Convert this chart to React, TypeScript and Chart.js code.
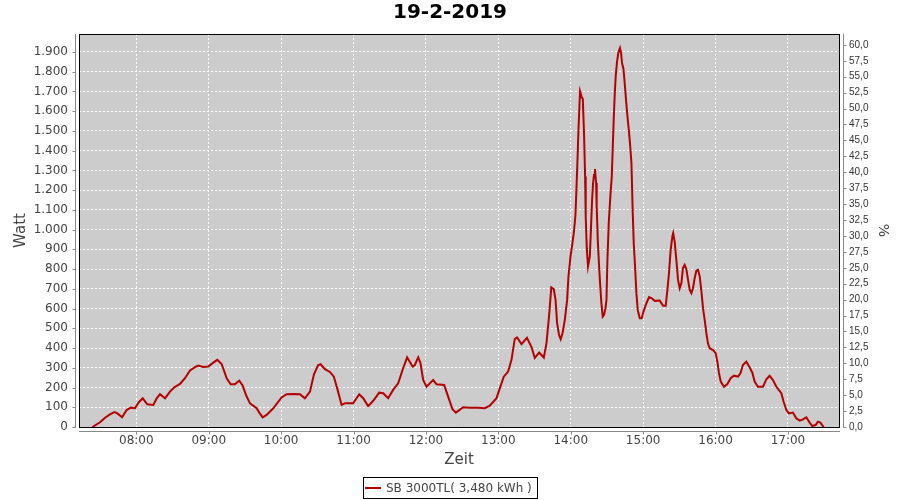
import { useEffect, useRef } from 'react';
import { Chart, registerables } from 'chart.js';

Chart.register(...registerables);

const chartTitle = '19-2-2019';
const seriesLabel = 'SB 3000TL( 3,480 kWh )';
const xAxisTitle = 'Zeit';
const yAxisTitle = 'Watt';
const y2AxisTitle = '%';

// time of day in minutes after midnight
const timeMinutes = [
  443.6, 449.9, 454.1, 458.2, 461.8, 464.3, 468.2, 472.0, 475.4, 478.9,
  481.7, 485.3, 489.1, 494.1, 496.9, 499.6, 503.8, 507.9, 511.5, 516.2,
  520.3, 524.5, 528.6, 531.3, 535.5, 539.6, 543.8, 547.1, 550.7, 554.9,
  558.2, 561.7, 565.3, 568.1, 570.9, 574.2, 579.7, 581.9, 584.7, 588.0,
  593.5, 596.3, 600.4, 604.6, 610.0, 615.6, 619.7, 623.9, 627.2, 630.7,
  632.7, 636.3, 640.4, 643.7, 646.8, 650.1, 652.8, 659.7, 664.7, 668.0,
  672.1, 676.3, 681.3, 684.6, 688.7, 692.8, 697.0, 700.6, 704.4, 708.9,
  710.8, 713.6, 715.5, 717.7, 720.5, 723.2, 726.0, 728.8, 735.1, 738.4,
  742.0, 744.8, 750.8, 756.4, 763.2, 768.8, 772.9, 778.5, 781.2, 784.5,
  788.1, 790.9, 793.6, 795.5, 799.2, 803.7, 807.5, 810.2, 813.8, 817.7,
  819.9, 822.0, 823.9, 826.0, 827.4, 828.7, 830.3, 831.7, 833.2, 835.1,
  837.0, 838.1, 839.8, 841.4, 842.8, 843.9, 844.7, 845.6, 846.4, 847.2,
  847.7, 848.9, 850.0, 851.0, 851.9, 852.4, 853.3, 854.3, 855.8, 856.6,
  857.7, 858.5, 859.3, 860.1, 861.0, 861.5, 862.4, 863.5, 864.3, 865.4,
  866.5, 867.6, 868.8, 869.6, 870.4, 871.5, 872.9, 874.0, 874.8, 875.6,
  876.5, 877.3, 878.4, 879.5, 880.8, 881.7, 882.5, 883.7, 884.7, 885.8,
  887.0, 888.1, 889.1, 890.3, 891.3, 892.2, 893.3, 894.4, 895.5, 897.2,
  898.8, 900.5, 902.7, 904.9, 906.9, 909.6, 913.7, 916.5, 918.7, 920.1,
  921.4, 922.8, 924.2, 924.9, 926.2, 927.6, 928.9, 930.3, 931.7, 933.0,
  934.4, 935.8, 937.2, 938.6, 940.0, 941.3, 942.7, 944.1, 945.5, 946.9,
  948.3, 949.6, 951.0, 952.4, 953.7, 955.1, 957.9, 960.1, 961.5, 962.8,
  964.3, 967.0, 969.8, 972.5, 975.3, 978.6, 980.6, 982.7, 985.5, 988.3,
  990.5, 992.4, 995.1, 999.3, 1002.1, 1004.8, 1007.6, 1010.4, 1014.5, 1016.4,
  1018.7, 1020.8, 1024.1, 1026.9, 1029.7, 1032.4, 1035.2, 1038.0, 1040.2, 1042.9,
  1044.8, 1046.8, 1049.6,
];

const wattValues = [
  0, 24, 47, 64, 76, 69, 49, 86, 98, 95,
  123, 145, 115, 112, 145, 166, 145, 179, 201, 218,
  247, 286, 303, 311, 304, 306, 326, 340, 319, 247,
  216, 216, 235, 211, 162, 120, 95, 73, 49, 61,
  95, 117, 150, 166, 167, 166, 145, 179, 267, 314,
  318, 293, 279, 255, 188, 112, 120, 120, 166, 146,
  106, 133, 174, 171, 146, 188, 221, 289, 353, 306,
  314, 353, 323, 238, 204, 221, 238, 216, 213, 154,
  90, 73, 100, 98, 98, 95, 108, 146, 196, 255,
  281, 340, 446, 454, 420, 452, 405, 350, 377, 352,
  425, 560, 707, 698, 644, 526, 466, 445, 475, 543,
  644, 762, 864, 931, 999, 1075, 1202, 1354, 1506, 1624,
  1700, 1675, 1662, 1489, 1269, 1066, 906, 813, 864, 982,
  1151, 1236, 1278, 1307, 1236, 1117, 948, 813, 729, 627,
  559, 568, 602, 644, 847, 1033, 1176, 1269, 1413, 1557,
  1692, 1780, 1852, 1898, 1920, 1895, 1844, 1814, 1743, 1658,
  1573, 1506, 1438, 1337, 1100, 931, 813, 678, 593, 551,
  551, 590, 627, 658, 653, 639, 641, 614, 614, 695,
  779, 897, 965, 982, 935, 840, 745, 703, 729, 805,
  821, 800, 745, 695, 678, 703, 754, 793, 796, 762,
  686, 602, 543, 475, 424, 399, 390, 374, 331, 275,
  230, 204, 218, 247, 260, 255, 272, 314, 331, 301,
  275, 230, 204, 204, 242, 259, 238, 204, 171, 128,
  86, 69, 73, 44, 32, 39, 49, 22, 5, 10,
  27, 22, 0,
];

const xTickMinutes = [480, 540, 600, 660, 720, 780, 840, 900, 960, 1020];
const xTickLabels = ['08:00', '09:00', '10:00', '11:00', '12:00', '13:00', '14:00', '15:00', '16:00', '17:00'];
const wattTicks = [0, 100, 200, 300, 400, 500, 600, 700, 800, 900, 1000, 1100, 1200, 1300, 1400, 1500, 1600, 1700, 1800, 1900];
const percentTicks = [0, 2.5, 5, 7.5, 10, 12.5, 15, 17.5, 20, 22.5, 25, 27.5, 30, 32.5, 35, 37.5, 40, 42.5, 45, 47.5, 50, 52.5, 55, 57.5, 60];

const xMin = 432.5;
const xMax = 1062.3;
const wattMax = 1991;
const percentMax = 61.7;

const fmtWatt = (v: number) => {
  if (v >= 1000) {
    return Math.floor(v / 1000) + '.' + String(v % 1000).padStart(3, '0');
  }
  return String(v);
};
const fmtPct = (v: number) => v.toFixed(1).replace('.', ',');

const LINE_COLOR = '#b40000';
const TEXT_COLOR = '#444444';
const AXIS_COLOR = '#888888';

const decorPlugin = {
  id: 'decor',
  beforeDraw(chart: any) {
    const { ctx, chartArea: a } = chart;
    ctx.save();
    ctx.fillStyle = '#cccccc';
    ctx.fillRect(a.left, a.top, a.right - a.left, a.bottom - a.top);
    ctx.restore();
  },
  afterDraw(chart: any) {
    const { ctx, chartArea: a, scales } = chart;
    ctx.save();
    // plot border
    ctx.strokeStyle = '#000000';
    ctx.lineWidth = 1;
    ctx.strokeRect(a.left + 0.5, a.top + 0.5, a.right - a.left, a.bottom - a.top);

    // offset axis lines
    ctx.strokeStyle = AXIS_COLOR;
    ctx.beginPath();
    const lx = a.left - 3.5;
    ctx.moveTo(lx, a.top);
    ctx.lineTo(lx, a.bottom + 1);
    const by = a.bottom + 4.5;
    ctx.moveTo(a.left, by);
    ctx.lineTo(a.right + 1, by);
    const rx = a.right + 4.5;
    ctx.moveTo(rx, a.top);
    ctx.lineTo(rx, a.bottom + 1);
    // tick marks
    for (const v of wattTicks) {
      const y = Math.round(scales.y.getPixelForValue(v)) + 0.5;
      ctx.moveTo(lx - 3, y);
      ctx.lineTo(lx, y);
    }
    for (const v of percentTicks) {
      const y = Math.round(scales.y1.getPixelForValue(v)) + 0.5;
      ctx.moveTo(rx, y);
      ctx.lineTo(rx + 3, y);
    }
    for (const v of xTickMinutes) {
      const x = Math.round(scales.x.getPixelForValue(v)) + 0.5;
      ctx.moveTo(x, by);
      ctx.lineTo(x, by + 3);
    }
    ctx.stroke();

    // legend
    ctx.font = '12px "DejaVu Sans"';
    const tw = ctx.measureText(seriesLabel).width;
    const boxW = Math.round(2 + 16 + 5 + tw + 5);
    const boxH = 21;
    const bx = Math.round(chart.width / 2 - boxW / 2);
    const byy = 477;
    ctx.strokeStyle = '#000000';
    ctx.strokeRect(bx + 0.5, byy + 0.5, boxW, boxH);
    ctx.strokeStyle = LINE_COLOR;
    ctx.lineWidth = 2;
    ctx.beginPath();
    ctx.moveTo(bx + 2, byy + 11);
    ctx.lineTo(bx + 18, byy + 11);
    ctx.stroke();
    ctx.fillStyle = TEXT_COLOR;
    ctx.textBaseline = 'middle';
    ctx.textAlign = 'left';
    ctx.fillText(seriesLabel, bx + 23, byy + 11.5);
    ctx.restore();
  },
};

export default function App() {
  const canvasRef = useRef<HTMLCanvasElement | null>(null);

  useEffect(() => {
    document.body.style.margin = '0';
    const canvas = canvasRef.current;
    if (!canvas) return;
    const points = timeMinutes.map((t, i) => ({ x: t, y: wattValues[i] }));
    const tickFont = { family: '"DejaVu Sans"', size: 12 };
    const gridBase = { color: '#ffffff', lineWidth: 1, drawTicks: false };
    const chart = new Chart(canvas, {
      type: 'line',
      data: {
        datasets: [
          {
            label: seriesLabel,
            data: points,
            borderColor: LINE_COLOR,
            backgroundColor: LINE_COLOR,
            borderWidth: 2,
            pointRadius: 0,
            tension: 0,
            fill: false,
            yAxisID: 'y',
          },
        ],
      },
      options: {
        responsive: false,
        animation: false,
        events: [],
        layout: { padding: 0 },
        plugins: {
          legend: { display: false },
          tooltip: { enabled: false },
          title: {
            display: true,
            text: chartTitle,
            color: '#000000',
            font: { family: '"DejaVu Sans"', size: 20, weight: 'bold' },
            padding: { top: 1, bottom: 9 },
          },
        },
        scales: {
          x: {
            type: 'linear',
            min: xMin,
            max: xMax,
            afterBuildTicks: (s: any) => {
              s.ticks = xTickMinutes.map((v) => ({ value: v }));
            },
            afterFit: (s: any) => {
              s.height = 73;
            },
            ticks: {
              autoSkip: false,
              maxRotation: 0,
              padding: 7,
              color: TEXT_COLOR,
              font: tickFont,
              callback: (value: any) => {
                const i = xTickMinutes.indexOf(Number(value));
                return i >= 0 ? xTickLabels[i] : '';
              },
            },
            grid: { ...gridBase },
            border: { display: false, dash: [2, 2] },
            title: {
              display: true,
              text: xAxisTitle,
              color: TEXT_COLOR,
              font: { family: '"DejaVu Sans"', size: 15 },
              padding: { top: 0, bottom: 31 },
            },
          },
          y: {
            type: 'linear',
            position: 'left',
            min: 0,
            max: wattMax,
            afterBuildTicks: (s: any) => {
              s.ticks = wattTicks.map((v) => ({ value: v }));
            },
            afterFit: (s: any) => {
              s.width = 79;
            },
            ticks: {
              padding: 11,
              color: TEXT_COLOR,
              font: tickFont,
              callback: (value: any) => fmtWatt(Number(value)),
            },
            grid: { ...gridBase },
            border: { display: false, dash: [2, 2] },
            title: {
              display: true,
              text: yAxisTitle,
              color: TEXT_COLOR,
              font: { family: '"DejaVu Sans"', size: 15 },
              padding: { top: 12, bottom: 0 },
            },
          },
          y1: {
            type: 'linear',
            position: 'right',
            min: 0,
            max: percentMax,
            afterBuildTicks: (s: any) => {
              s.ticks = percentTicks.map((v) => ({ value: v }));
            },
            afterFit: (s: any) => {
              s.width = 61;
            },
            ticks: {
              padding: 10,
              color: '#333333',
              font: { family: '"Liberation Sans"', size: 10 },
              callback: (value: any) => fmtPct(Number(value)),
            },
            grid: { display: false, drawOnChartArea: false, drawTicks: false },
            border: { display: false },
            title: {
              display: true,
              text: y2AxisTitle,
              color: TEXT_COLOR,
              font: { family: '"DejaVu Sans"', size: 14 },
              padding: { top: 9, bottom: 0 },
            },
          },
        },
      },
      plugins: [decorPlugin],
    } as any);
    return () => {
      chart.destroy();
    };
  }, []);

  return (
    <div style={{ width: 900, height: 500 }}>
      <canvas ref={canvasRef} width={900} height={500} style={{ display: 'block' }} />
    </div>
  );
}
